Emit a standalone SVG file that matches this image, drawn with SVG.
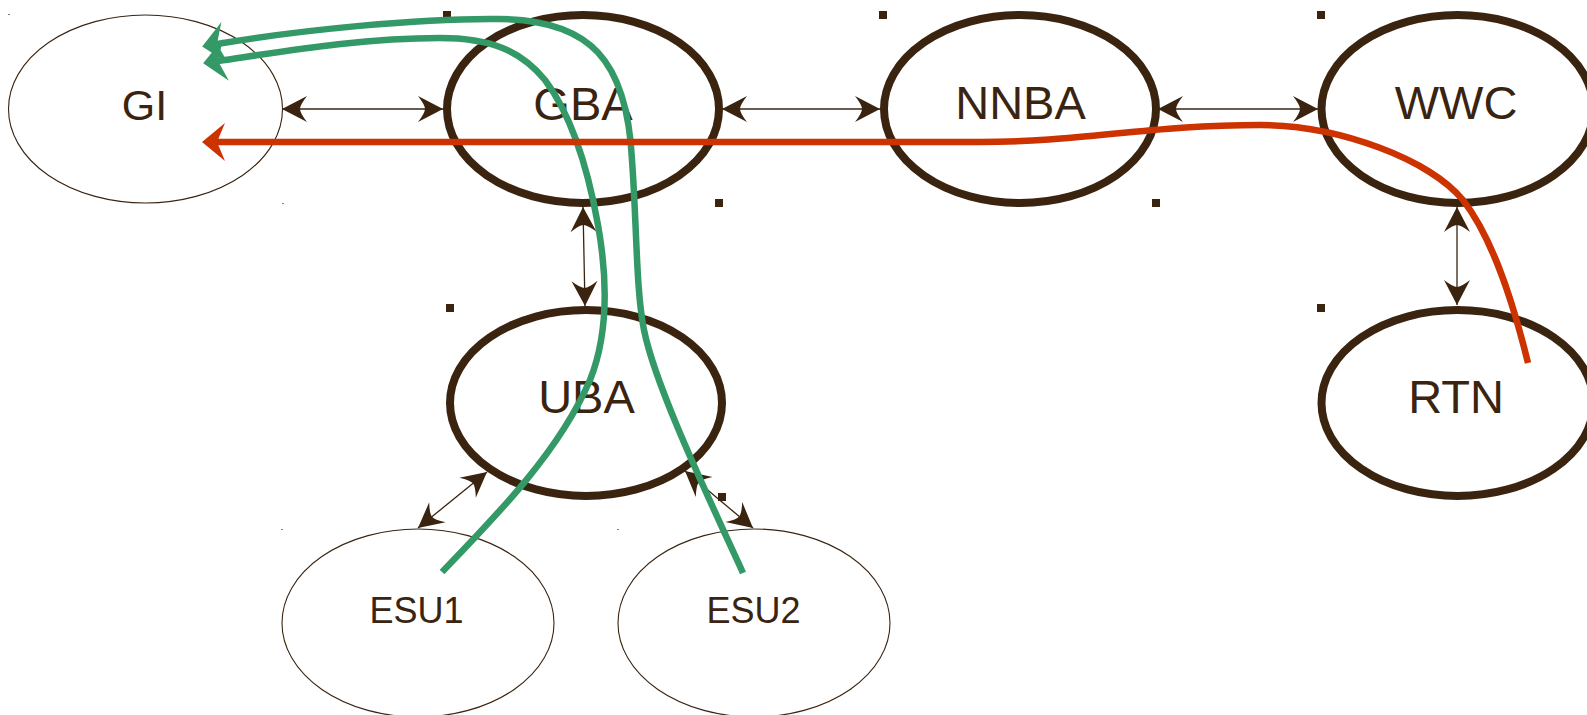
<svg xmlns="http://www.w3.org/2000/svg" width="1587" height="715" viewBox="0 0 1587 715">
<style>
.bold{fill:none;stroke:#3a2410;stroke-width:8}
.thin{fill:none;stroke:#3a2410;stroke-width:1.1}
.lbl{font-family:"Liberation Sans",Arial,sans-serif;fill:#3a2410;text-anchor:middle;font-size:47px}
.sm{font-size:36px}
.gi{font-size:43px}
.conn{fill:none;stroke:#3a2410;stroke-width:1.3;marker-start:url(#ah);marker-end:url(#ah)}
.mark{fill:#3a2410}
.dot{fill:#8a7a6a}
.green{fill:none;stroke:#339966;stroke-width:6.5;marker-end:url(#ag)}
.red{fill:none;stroke:#cc3300;stroke-width:6.5;marker-end:url(#ar)}
</style>
<defs>
<marker id="ah" markerUnits="userSpaceOnUse" markerWidth="30" markerHeight="30" refX="25" refY="13" orient="auto-start-reverse" overflow="visible">
<path d="M25,13 L0,0 Q7,9 7,13 Q7,17 0,26 Z" fill="#3a2410"/>
</marker>
<marker id="ag" markerUnits="userSpaceOnUse" markerWidth="40" markerHeight="44" refX="9" refY="21" orient="auto" overflow="visible">
<path d="M24,21 L1,0 L9,21 L1,42 Z" fill="#339966"/>
</marker>
<marker id="ar" markerUnits="userSpaceOnUse" markerWidth="40" markerHeight="40" refX="8" refY="19" orient="auto" overflow="visible">
<path d="M23,19 L0,0 L8,19 L0,38 Z" fill="#cc3300"/>
</marker>
</defs>
<rect width="1587" height="715" fill="#ffffff"/>

<g id="marks">
<rect class="mark" x="443" y="11" width="8" height="8"/>
<rect class="mark" x="715" y="199" width="8" height="8"/>
<rect class="mark" x="879" y="11" width="8" height="8"/>
<rect class="mark" x="1152" y="199" width="8" height="8"/>
<rect class="mark" x="1317" y="11" width="8" height="8"/>
<rect class="mark" x="1317" y="304" width="8" height="8"/>
<rect class="mark" x="446" y="304" width="8" height="8"/>
<rect class="mark" x="718" y="493" width="8" height="8"/>
<rect class="dot" x="8" y="14" width="2" height="1"/>
<rect class="dot" x="282" y="203" width="2" height="1"/>
<rect class="dot" x="281" y="529" width="2" height="1"/>
<rect class="dot" x="617" y="529" width="2" height="1"/>
</g>

<g id="GI"><ellipse class="thin" cx="145.5" cy="109" rx="137" ry="94"/><text class="lbl gi" x="144.5" y="120">GI</text></g>
<g id="GBA"><ellipse class="bold" cx="583" cy="109" rx="136" ry="94"/><text class="lbl" x="583" y="120">GBA</text></g>
<g id="NNBA"><ellipse class="bold" cx="1020" cy="109" rx="136" ry="94"/><text class="lbl" x="1020.5" y="119">NNBA</text></g>
<g id="WWC"><ellipse class="bold" cx="1457.5" cy="109" rx="136" ry="94"/><text class="lbl" x="1456" y="119">WWC</text></g>
<g id="UBA"><ellipse class="bold" cx="586" cy="403" rx="136" ry="93"/><text class="lbl" x="586.5" y="413">UBA</text></g>
<g id="RTN"><ellipse class="bold" cx="1457.5" cy="403" rx="136" ry="93"/><text class="lbl" x="1456" y="413">RTN</text></g>
<g id="ESU1"><ellipse class="thin" cx="418" cy="623" rx="136" ry="94"/><text class="lbl sm" x="416.5" y="623">ESU1</text></g>
<g id="ESU2"><ellipse class="thin" cx="754" cy="623" rx="136" ry="94"/><text class="lbl sm" x="753.5" y="623">ESU2</text></g>

<g id="connectors">
<line class="conn" x1="282" y1="109" x2="443" y2="109"/>
<line class="conn" x1="722" y1="109" x2="880" y2="109"/>
<line class="conn" x1="1158" y1="109" x2="1318" y2="109"/>
<line class="conn" x1="583" y1="207" x2="585" y2="306"/>
<line class="conn" x1="1457" y1="207" x2="1457" y2="305"/>
<line class="conn" x1="487" y1="472" x2="418" y2="528"/>
<line class="conn" x1="685" y1="471" x2="753" y2="528"/>
<path class="green" d="M743,573 C705,490 655,385 644,330 C636,290 637,230 632,160 C627,60 590,20 500,19 C420,18 300,30 217,44"/>
<path class="green" d="M442,572 C500,512 560,450 590,380 C610,330 606,270 598,225 C590,180 575,120 545,80 C520,50 490,38 440,38 C360,38 280,52 218,61"/>
<path class="red" d="M1528,363 C1510,290 1490,235 1463,200 C1430,160 1340,125 1260,125 C1150,125 1080,142 980,142 L217,142"/>
</g>
</svg>
